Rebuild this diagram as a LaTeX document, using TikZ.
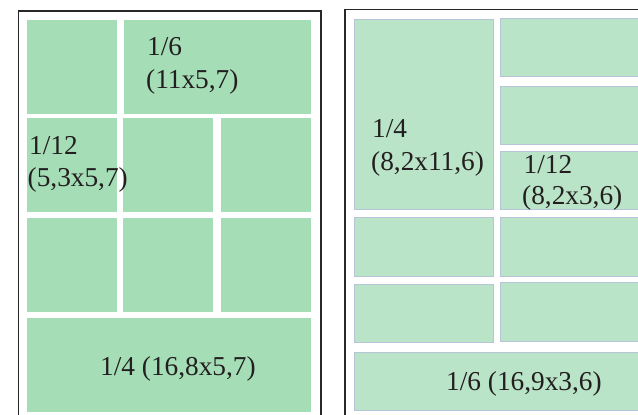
\documentclass[tikz,border=0pt]{standalone}
\usepackage{fontspec}
\setmainfont{Liberation Serif}
\definecolor{tileA}{RGB}{165,222,182}
\definecolor{tileB}{RGB}{185,228,199}
\definecolor{tileEdge}{RGB}{184,196,216}
\definecolor{frameC}{RGB}{40,40,40}
\definecolor{txt}{RGB}{35,31,32}
\tikzset{
  tileL/.style={fill=tileA},
  tileR/.style={fill=tileB, draw=tileEdge, line width=1pt},
  frame/.style={draw=frameC, line width=1.8pt},
  lbl/.style={anchor=base west, inner sep=0pt, text=txt, font=\fontsize{27.3}{31}\selectfont}
}
\begin{document}
\begin{tikzpicture}[x=1pt,y=-1pt]
\useasboundingbox (0,0) rectangle (638,415);
\begin{scope}
\clip (0,0) rectangle (638,415);
% left panel
\path[frame] (18.5,11) rectangle (321,440);
\path[tileL] (27,20) rectangle (117,113.7);
\path[tileL] (124,20) rectangle (311,113.7);
\path[tileL] (27,118) rectangle (117,211.7);
\path[tileL] (123,118) rectangle (213,211.7);
\path[tileL] (221,118) rectangle (311,211.7);
\path[tileL] (27,218) rectangle (117,311.7);
\path[tileL] (123,218) rectangle (213,311.7);
\path[tileL] (221,218) rectangle (311,311.7);
\path[tileL] (27,318) rectangle (311,411.7);
% right panel
\path[frame] (345,9.5) rectangle (660,440);
\path[tileR] (354.3,19.3) rectangle (493,209.3);
\path[tileR] (500,18.3) rectangle (660,76.3);
\path[tileR] (500,86) rectangle (660,144.3);
\path[tileR] (500,151) rectangle (660,209.3);
\path[tileR] (354.3,217.7) rectangle (493,276.3);
\path[tileR] (500,217.7) rectangle (660,276.3);
\path[tileR] (354.3,284) rectangle (493,342.3);
\path[tileR] (500,282.3) rectangle (660,341);
\path[tileR] (354.3,352) rectangle (660,410.7);
\end{scope}
% labels left
\node[lbl] (l1a) at (147,56) {1/6};
\node[lbl] (l1b) at (146,88) {(11x5,7)};
\node[lbl] (l2a) at (29,154) {1/12};
\node[lbl] (l2b) at (27.5,186.5) {(5,3x5,7)};
\node[lbl] (l3) at (100,375.5) {1/4 (16,8x5,7)};
% labels right
\node[lbl] (r1a) at (372,137) {1/4};
\node[lbl] (r1b) at (371,170.5) {(8,2x11,6)};
\node[lbl] (r2a) at (523.5,173) {1/12};
\node[lbl] (r2b) at (522,204) {(8,2x3,6)};
\node[lbl] (r3) at (446,390.5) {1/6 (16,9x3,6)};
\end{tikzpicture}
\end{document}
